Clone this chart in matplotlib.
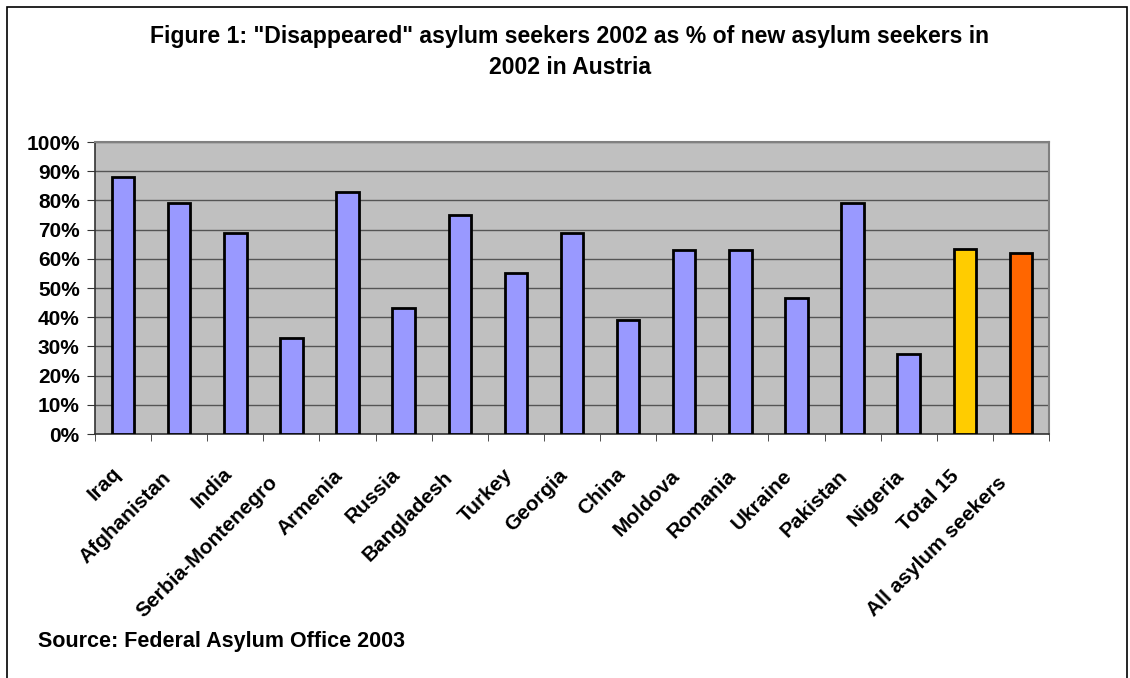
import matplotlib
matplotlib.use("Agg")
import matplotlib.pyplot as plt
import numpy as np
from matplotlib.ticker import FixedLocator, PercentFormatter
from matplotlib.patches import Rectangle
import matplotlib.transforms as mtransforms

categories = ["Iraq", "Afghanistan", "India", "Serbia-Montenegro", "Armenia", "Russia",
              "Bangladesh", "Turkey", "Georgia", "China", "Moldova", "Romania", "Ukraine",
              "Pakistan", "Nigeria", "Total 15", "All asylum seekers"]
values = [88, 79, 69, 33, 83, 43, 75, 55, 69, 39, 63, 63, 46.5, 79, 27.5, 63.5, 62]
colors = ["#9999FF"] * 15 + ["#FFCC00", "#FF6600"]

title_line1 = 'Figure 1: "Disappeared" asylum seekers 2002 as % of new asylum seekers in'
title_line2 = '2002 in Austria'
source = "Source: Federal Asylum Office 2003"

plt.rcParams['font.family'] = ['Liberation Sans', 'DejaVu Sans']
plt.rcParams['font.weight'] = 'bold'

W, H = 1130, 678
fig = plt.figure(figsize=(W / 100, H / 100), dpi=100)
ax = fig.add_axes([95 / W, 1 - 434 / H, (1049 - 95) / W, (434 - 142) / H])
ax.set_facecolor("#C0C0C0")

x = np.arange(len(categories))
ax.bar(x, values, width=0.4, color=colors, edgecolor="black", linewidth=2, zorder=3)

ax.set_xlim(-0.5, len(categories) - 0.5)
ax.set_ylim(0, 100)
ax.set_yticks(np.arange(0, 101, 10))
ax.yaxis.set_major_formatter(PercentFormatter(decimals=0))
ax.grid(axis='y', color="#555555", linewidth=1, zorder=1)
ax.set_axisbelow(True)

ax.set_xticks(x)
ax.set_xticklabels([])
ax.xaxis.set_minor_locator(FixedLocator(np.arange(-0.5, len(categories), 1.0)))
ax.tick_params(axis='x', which='major', length=0)
ax.tick_params(axis='x', which='minor', length=5, direction='out', color="#333333")
ax.tick_params(axis='y', length=6, direction='out', labelsize=15, color="#333333", pad=5)
for lab in ax.get_yticklabels():
    lab.set_fontweight('bold')

# rotated category labels (top-right corner anchored below each category)
blend = mtransforms.blended_transform_factory(ax.transData, ax.transAxes)
for xi, lab in zip(x, categories):
    n = len(lab)
    dx = -(8 + 0.9 * n) / 100.0
    dy = -(27 + 0.7 * n) / 100.0
    tr = blend + mtransforms.ScaledTranslation(dx, dy, fig.dpi_scale_trans)
    ax.text(xi, 0, lab, transform=tr, rotation=45, ha='right', va='top',
            rotation_mode='anchor', fontsize=15, fontweight='bold', clip_on=False)

for side in ['top', 'right']:
    ax.spines[side].set_color("#808080")
    ax.spines[side].set_linewidth(1.5)
for side in ['left', 'bottom']:
    ax.spines[side].set_color("#333333")
    ax.spines[side].set_linewidth(1.2)

fig.text(570 / W, 1 - 37 / H, title_line1, ha='center', va='center', fontsize=16.6,
         fontweight='bold')
fig.text(570 / W, 1 - 67 / H, title_line2, ha='center', va='center', fontsize=16.6,
         fontweight='bold')
fig.text(38 / W, 1 - 642 / H, source, ha='left', va='center', fontsize=15.5, fontweight='bold')

fig.add_artist(Rectangle((7 / W, -0.01), (1127 - 7) / W, 1.0, transform=fig.transFigure,
                         fill=False, edgecolor="black", linewidth=1.2))

fig.savefig("out.png", dpi=100)
